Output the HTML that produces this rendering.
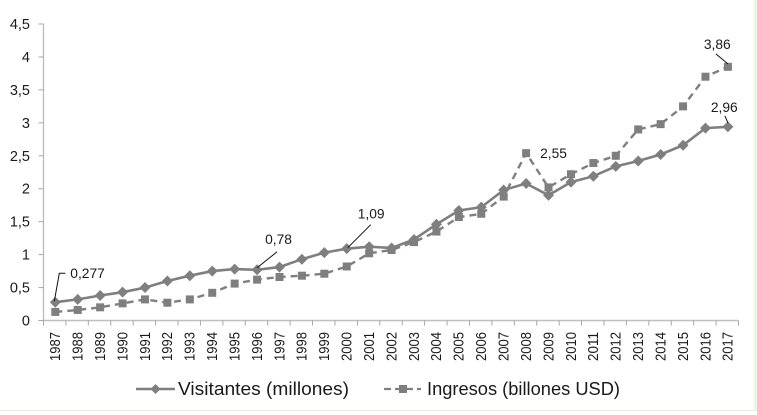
<!DOCTYPE html>
<html>
<head>
<meta charset="utf-8">
<style>
html,body{margin:0;padding:0;background:#fff;width:757px;height:415px;overflow:hidden}
svg{display:block;filter:blur(0.3px)}
text{font-family:"Liberation Sans",sans-serif;fill:#1a1a1a}
</style>
</head>
<body>
<svg id="chart" width="757" height="415" viewBox="0 0 757 415" xmlns="http://www.w3.org/2000/svg">
<rect x="0" y="0" width="757" height="415" fill="#ffffff"/>
<line x1="0" y1="410.5" x2="756" y2="410.5" stroke="#e6f0d8" stroke-width="1"/>
<line x1="755.5" y1="0" x2="755.5" y2="411" stroke="#e6f0d8" stroke-width="2"/>
<g id="axes"></g>
<g id="series"></g>
<g id="annotations"></g>
<g id="legend"></g>
</svg>
<script>
var years = ["1987","1988","1989","1990","1991","1992","1993","1994","1995","1996","1997","1998","1999","2000","2001","2002","2003","2004","2005","2006","2007","2008","2009","2010","2011","2012","2013","2014","2015","2016","2017"];
var visitantes = [0.277,0.32,0.38,0.43,0.5,0.6,0.68,0.75,0.78,0.77,0.81,0.93,1.03,1.09,1.12,1.1,1.23,1.46,1.67,1.72,1.98,2.08,1.9,2.1,2.19,2.34,2.42,2.52,2.66,2.92,2.94];
var ingresos = [0.13,0.16,0.2,0.26,0.32,0.27,0.32,0.42,0.56,0.62,0.66,0.68,0.71,0.82,1.02,1.07,1.19,1.35,1.57,1.62,1.88,2.54,2.02,2.22,2.39,2.5,2.9,2.98,3.25,3.7,3.85];
var yTicks = [0,0.5,1,1.5,2,2.5,3,3.5,4,4.5];
var yTickLabels = ["0","0,5","1","1,5","2","2,5","3","3,5","4","4,5"];

var NS = "http://www.w3.org/2000/svg";
var GRAY = "#7f7f7f";
var LEFT = 43.5, RIGHT = 738.5, Y0 = 320.5, YMAX = 24, VMAX = 4.5;
var axesG = document.getElementById("axes");
var seriesG = document.getElementById("series");
var annG = document.getElementById("annotations");
var legG = document.getElementById("legend");

function xPos(i){ return LEFT + 0.6 + (i + 0.5) * (RIGHT - LEFT) / years.length; }
function xEdge(i){ return LEFT + i * (RIGHT - LEFT) / years.length; }
function yPos(v){ return Y0 - v * (Y0 - YMAX) / VMAX; }
function mk(tag, attrs, parent){
  var e = document.createElementNS(NS, tag);
  for (var k in attrs) e.setAttribute(k, attrs[k]);
  parent.appendChild(e);
  return e;
}

// axes
var yAxis = mk("line", {x1:LEFT, y1:YMAX, x2:LEFT, y2:Y0, stroke:"#bfbfbf", "stroke-width":1.4}, axesG);


var xAxis = mk("line", {x1:LEFT, y1:Y0, x2:RIGHT, y2:Y0, stroke:"#bfbfbf", "stroke-width":1.4}, axesG);



yTicks.forEach(function(v, i){
  var t = mk("line", {x1:LEFT-5, y1:yPos(v), x2:LEFT, y2:yPos(v), stroke:"#a6a6a6", "stroke-width":1}, axesG);
  
  
  var l = mk("text", {x:30, y:yPos(v)+5, "text-anchor":"end", "font-size":14.5}, axesG);
  
  
  l.textContent = yTickLabels[i];
});
for (var e = 0; e <= years.length; e++){
  var tm = mk("line", {x1:xEdge(e), y1:Y0, x2:xEdge(e), y2:Y0+5, stroke:"#a6a6a6", "stroke-width":1}, axesG);
  
  
}
years.forEach(function(y, i){
  var px = xPos(i) + 4.8;
  var l = mk("text", {x:px, y:361, "font-size":14.4, "text-anchor":"start", textLength:29, lengthAdjust:"spacingAndGlyphs", transform:"rotate(-90 "+px+" 361)"}, axesG);
  
  
  l.textContent = y;
});

// series
function pts(arr){ return arr.map(function(v,i){ return xPos(i).toFixed(1)+","+yPos(v).toFixed(1); }).join(" "); }

var ingLine = mk("polyline", {points:pts(ingresos), fill:"none", stroke:GRAY, "stroke-width":2.4, "stroke-dasharray":"7 5"}, seriesG);


ingresos.forEach(function(v, i){
  var m = mk("rect", {x:xPos(i)-4, y:yPos(v)-4, width:8, height:8, fill:GRAY}, seriesG);
  
  
});

var visLine = mk("polyline", {points:pts(visitantes), fill:"none", stroke:GRAY, "stroke-width":2.6}, seriesG);


visitantes.forEach(function(v, i){
  var x = xPos(i), y = yPos(v);
  var m = mk("polygon", {points:(x)+","+(y-5.5)+" "+(x+5.5)+","+y+" "+x+","+(y+5.5)+" "+(x-5.5)+","+y, fill:GRAY}, seriesG);
  
  
});

// annotations: label text, data series, index, label offset and leader elbow relative to the point
function annotate(txt, arr, idx, dx, dy, leader){
  var x = xPos(idx), y = yPos(arr[idx]);
  if (leader.length){
    var p = leader.map(function(o){ return (x+o[0])+","+(y+o[1]); }).join(" ");
    var ln = mk("polyline", {points:p, fill:"none", stroke:"#111", "stroke-width":1}, annG);
    
    
  }
  var t = mk("text", {x:x+dx, y:y+dy, "font-size":13.8}, annG);
  
  
  t.textContent = txt;
}
annotate("0,277", visitantes, 0, 15, -24, [[-1,-1],[4,-29],[10,-29]]);
annotate("0,78", visitantes, 9, 8, -26, [[0,-2],[20,-18]]);
annotate("1,09", visitantes, 13, 11, -30, [[1,-1],[24,-24]]);
annotate("2,55", ingresos, 21, 14, 5, []);
annotate("3,86", ingresos, 30, -24, -18, [[0,-3],[-12,-13]]);
annotate("2,96", visitantes, 30, -17, -15, [[0,-4],[-3,-11]]);

// legend
var l1 = mk("line", {x1:136, y1:389, x2:175, y2:389, stroke:GRAY, "stroke-width":2.4}, legG);


var l1m = mk("polygon", {points:"155.5,384 160.5,389 155.5,394 150.5,389", fill:GRAY}, legG);


var l1t = mk("text", {x:178, y:395, "font-size":18.6, textLength:171, lengthAdjust:"spacingAndGlyphs"}, legG);


l1t.textContent = "Visitantes (millones)";

var l2 = mk("line", {x1:384, y1:389, x2:421, y2:389, stroke:GRAY, "stroke-width":2.2, "stroke-dasharray":"7 4"}, legG);


var l2m = mk("rect", {x:399, y:385, width:8, height:8, fill:GRAY}, legG);


var l2t = mk("text", {x:427, y:395, "font-size":18.6, textLength:193, lengthAdjust:"spacingAndGlyphs"}, legG);


l2t.textContent = "Ingresos (billones USD)";
</script>
</body>
</html>
